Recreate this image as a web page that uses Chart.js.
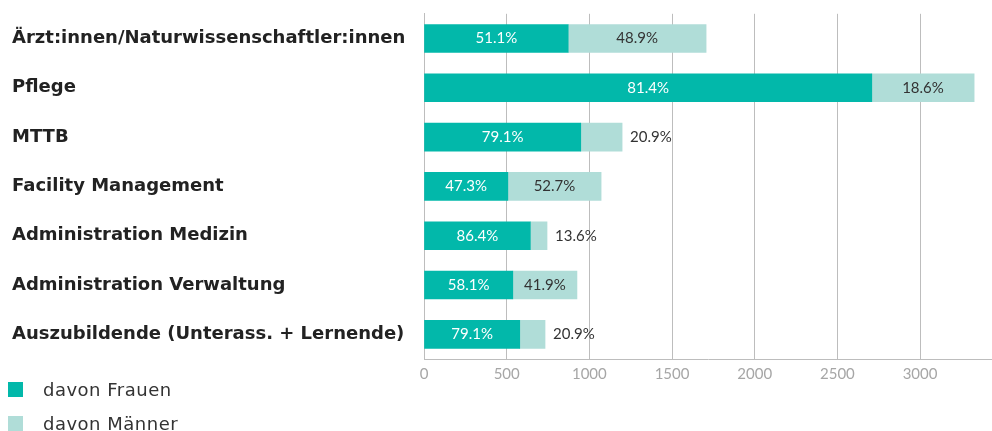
<!DOCTYPE html>
<html>
<head>
<meta charset="utf-8">
<script src="https://cdn.jsdelivr.net/npm/chart.js@4"></script>
<style>
  html, body { margin: 0; padding: 0; background: #fff; }
  #wrap { position: relative; width: 992px; height: 431px; overflow: hidden; }
  #legend { position: absolute; left: 8px; top: 372px; font-family: 'DejaVu Sans', sans-serif; font-size: 18px; letter-spacing: 0.5px; color: #333; }
  #legend div { display: flex; align-items: center; height: 34px; }
  #legend span.box { display: inline-block; width: 15px; height: 15px; margin-right: 20px; }
</style>
</head>
<body>
<div id="wrap">
  <canvas id="chart" width="992" height="431"></canvas>
  <div id="legend"></div>
</div>
<script>
const categories = [
    'Ärzt:innen/Naturwissenschaftler:innen',
    'Pflege',
    'MTTB',
    'Facility Management',
    'Administration Medizin',
    'Administration Verwaltung',
    'Auszubildende (Unterass. + Lernende)'
];
const frauen = [872, 2708, 948, 507, 643, 537, 579];
const maenner = [834, 619, 250, 564, 101, 388, 153];
const pctFrauen = ['51.1%', '81.4%', '79.1%', '47.3%', '86.4%', '58.1%', '79.1%'];
const pctMaenner = ['48.9%', '18.6%', '20.9%', '52.7%', '13.6%', '41.9%', '20.9%'];
const xTicks = [0, 500, 1000, 1500, 2000, 2500, 3000];

const colFrauen = '#02b8aa';
const colMaenner = '#b0ddd8';
const gridColor = '#bdbdbd';
const tickColor = '#a6a6a6';

// draw percentage labels on the segments
const pctLabels = {
    id: 'pctLabels',
    afterDatasetsDraw(chart) {
        const ctx = chart.ctx;
        ctx.save();
        ctx.font = '15px Lato, sans-serif';
        ctx.textBaseline = 'middle';
        chart.data.datasets.forEach((ds, di) => {
            const meta = chart.getDatasetMeta(di);
            meta.data.forEach((bar, i) => {
                const txt = ds.pctText[i];
                const w = ctx.measureText(txt).width;
                const left = Math.min(bar.x, bar.base);
                const right = Math.max(bar.x, bar.base);
                if (di === 0) {
                    ctx.fillStyle = '#ffffff';
                    ctx.textAlign = 'center';
                    ctx.fillText(txt, (left + right) / 2, bar.y);
                } else if (right - left > w + 10) {
                    ctx.fillStyle = '#333333';
                    ctx.textAlign = 'center';
                    ctx.fillText(txt, (left + right) / 2, bar.y);
                } else {
                    ctx.fillStyle = '#333333';
                    ctx.textAlign = 'left';
                    ctx.fillText(txt, right + 8, bar.y);
                }
            });
        });
        ctx.restore();
    }
};

const chart = new Chart(document.getElementById('chart'), {
    type: 'bar',
    data: {
        labels: categories,
        datasets: [
            { label: 'davon Frauen', data: frauen, pctText: pctFrauen, backgroundColor: colFrauen, barThickness: 28 },
            { label: 'davon Männer', data: maenner, pctText: pctMaenner, backgroundColor: colMaenner, barThickness: 28 }
        ]
    },
    options: {
        indexAxis: 'y',
        responsive: false,
        animation: false,
        layout: { padding: { left: 12, top: 12, right: 0, bottom: 0 } },
        plugins: {
            legend: { display: false },
            tooltip: { enabled: false }
        },
        scales: {
            x: {
                stacked: true,
                min: 0,
                max: 3435,
                afterBuildTicks: (scale) => { scale.ticks = xTicks.map(v => ({ value: v })); },
                afterFit: (scale) => { scale.height = 72; },
                ticks: {
                    color: tickColor,
                    font: { family: 'Lato', size: 15 },
                    padding: 6,
                    callback: (v) => String(v)
                },
                grid: { color: gridColor, drawTicks: false },
                border: { color: gridColor }
            },
            y: {
                stacked: true,
                afterFit: (scale) => { scale.width = 412; },
                ticks: { color: '#222', crossAlign: 'far', font: { family: 'DejaVu Sans', size: 18, weight: 'bold' } },
                grid: { display: false },
                border: { color: gridColor }
            }
        }
    },
    plugins: [pctLabels]
});

// legend built from the datasets
const legendEl = document.getElementById('legend');
chart.data.datasets.forEach(ds => {
    const row = document.createElement('div');
    row.innerHTML = '<span class="box" style="background:' + ds.backgroundColor + '"></span>' + ds.label;
    legendEl.appendChild(row);
});
</script>
</body>
</html>
